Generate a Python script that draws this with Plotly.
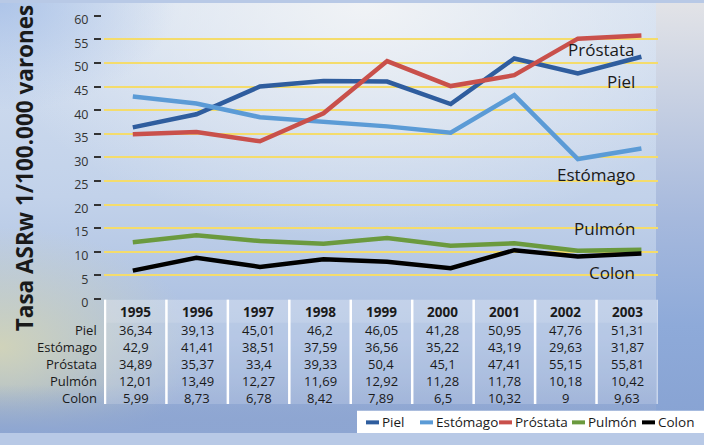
import base64
import plotly.graph_objects as go

# ---------------- data ----------------
years = ["1995", "1996", "1997", "1998", "1999", "2000", "2001", "2002", "2003"]
series_names = ["Piel", "Estómago", "Próstata", "Pulmón", "Colon"]
piel = [36.34, 39.13, 45.01, 46.2, 46.05, 41.28, 50.95, 47.76, 51.31]
estomago = [42.9, 41.41, 38.51, 37.59, 36.56, 35.22, 43.19, 29.63, 31.87]
prostata = [34.89, 35.37, 33.4, 39.33, 50.4, 45.1, 47.41, 55.15, 55.81]
pulmon = [12.01, 13.49, 12.27, 11.69, 12.92, 11.28, 11.78, 10.18, 10.42]
colon = [5.99, 8.73, 6.78, 8.42, 7.89, 6.5, 10.32, 9, 9.63]
y_ticks = [0, 5, 10, 15, 20, 25, 30, 35, 40, 45, 50, 55, 60]
y_title = "Tasa ASRw 1/100.000 varones"

series_values = [piel, estomago, prostata, pulmon, colon]

# ---------------- style ----------------
W, H = 704, 445
colors = ["#2f5d9e", "#5b9bd6", "#c9504b", "#6b9a3e", "#000000"]
label_y = [46.1, 26.4, 52.9, 15.0, 5.6]   # in-chart label placement
FONT = "Open Sans"
TXT = "#1a1a1a"


def px(x):
    return x / W


def py(y):
    return 1 - y / H


def fmt(v):
    return f"{v:g}".replace(".", ",")


bg_svg = f"""<svg xmlns='http://www.w3.org/2000/svg' width='{W}' height='{H}' viewBox='0 0 {W} {H}' preserveAspectRatio='none'>
<defs>
<linearGradient id='v' x1='0' y1='0' x2='0' y2='1'>
<stop offset='0' stop-color='#d3dff0'/>
<stop offset='0.45' stop-color='#c2d2ea'/>
<stop offset='0.78' stop-color='#a8bde0'/>
<stop offset='1' stop-color='#8aa2cf'/>
</linearGradient>
<radialGradient id='hl' cx='0.52' cy='0' r='0.55'>
<stop offset='0' stop-color='#f2f4f6' stop-opacity='0.95'/>
<stop offset='1' stop-color='#f2f4f6' stop-opacity='0'/>
</radialGradient>
<radialGradient id='tl' cx='0' cy='0' r='0.25'>
<stop offset='0' stop-color='#aac2e8' stop-opacity='0.9'/>
<stop offset='1' stop-color='#aac2e8' stop-opacity='0'/>
</radialGradient>
<radialGradient id='warm' cx='0.0' cy='0.8' r='0.28'>
<stop offset='0' stop-color='#d2d4b8' stop-opacity='0.95'/>
<stop offset='1' stop-color='#d2d4b8' stop-opacity='0'/>
</radialGradient>
<linearGradient id='rs' x1='0' y1='0' x2='0' y2='1'>
<stop offset='0' stop-color='#e2e3e7'/>
<stop offset='0.25' stop-color='#c4cee2'/>
<stop offset='0.5' stop-color='#a6b9dd'/>
<stop offset='0.75' stop-color='#8eaad9'/>
<stop offset='1' stop-color='#87a2d2'/>
</linearGradient>
<linearGradient id='bt' x1='0' y1='0' x2='0' y2='1'>
<stop offset='0' stop-color='#8ea6d2' stop-opacity='0'/>
<stop offset='1' stop-color='#8ea6d2' stop-opacity='1'/>
</linearGradient>
</defs>
<rect width='{W}' height='{H}' fill='url(#v)'/>
<rect width='{W}' height='{H}' fill='url(#hl)'/>
<rect width='{W}' height='{H}' fill='url(#tl)'/>
<rect width='{W}' height='{H}' fill='url(#warm)'/>
<rect x='0' y='395' width='{W}' height='50' fill='url(#bt)'/>
<rect x='656' y='0' width='48' height='{H}' fill='url(#rs)'/>
</svg>"""
bg_uri = "data:image/svg+xml;base64," + base64.b64encode(bg_svg.encode()).decode()

fig = go.Figure()

for name, vals, col in zip(series_names, series_values, colors):
    fig.add_trace(go.Scatter(
        x=years, y=vals, name=name, mode="lines",
        line=dict(color=col, width=4.5), showlegend=False,
        hoverinfo="x+y+name",
    ))
# helper trace for the tick axis and the table axis
fig.add_trace(go.Scatter(x=[], y=[], xaxis="x2", yaxis="y2", showlegend=False))

x_lo, x_hi = -0.453, 8.253          # line chart category range
t_lo, t_hi = -0.516, 8.492          # table column axis range
plot_l, plot_r, plot_t, plot_b = 104, 657.5, 12, 306.7

fig.update_layout(
    width=W, height=H, autosize=False,
    margin=dict(l=0, r=0, t=0, b=0),
    paper_bgcolor="#b8c9e6", plot_bgcolor="white",
    font=dict(family=FONT, color=TXT),
    xaxis=dict(type="category", domain=[px(plot_l), px(plot_r)], range=[x_lo, x_hi],
               showticklabels=False, showgrid=False, zeroline=False, showline=False,
               ticks="", fixedrange=True),
    xaxis2=dict(overlaying="x", range=[t_lo, t_hi], showticklabels=False, showgrid=False,
                zeroline=False, showline=False, ticks="", fixedrange=True),
    yaxis=dict(domain=[py(plot_b), py(plot_t)], range=[-0.1, 60.25],
               tickvals=y_ticks[1:-1], showticklabels=False, ticks="",
               showgrid=True, gridcolor="#f4dc6c", gridwidth=2.1,
               zeroline=False, showline=False, fixedrange=True),
    yaxis2=dict(overlaying="y", anchor="free", position=px(101), side="left",
                range=[-0.1, 60.25], tickvals=y_ticks, ticktext=[str(t) for t in y_ticks],
                ticks="outside", ticklen=7, tickwidth=1.6, tickcolor="#333333",
                tickfont=dict(size=12.5, color="#333333", family=FONT),
                ticklabelstandoff=3, ticklabelshift=4,
                showgrid=False, zeroline=False, showline=False, fixedrange=True),
    images=[dict(source=bg_uri, xref="paper", yref="paper", x=0, y=1,
                 sizex=1, sizey=1, sizing="stretch", layer="below",
                 xanchor="left", yanchor="top")],
)

shapes = []
annotations = []

# y-axis title
annotations.append(dict(text=f"<b>{y_title}</b>", xref="paper", yref="paper",
                        x=px(24), y=py(171), textangle=-90, showarrow=False,
                        font=dict(size=22.5, color=TXT, family=FONT),
                        xanchor="center", yanchor="middle"))

last = len(years) - 1
# in-chart series labels
for name, ly in zip(series_names, label_y):
    annotations.append(dict(text=name, xref="x", yref="y", x=last, y=ly,
                            xanchor="right", yanchor="middle", xshift=-4,
                            showarrow=False, font=dict(size=17, color=TXT, family=FONT)))

# ---- data table ----
tab_top, tab_bot = 307, 415
header_y = 320
row_y0, row_dy = 338, 17.7
shapes.append(dict(type="rect", xref="x2", yref="paper", x0=-0.5, x1=len(years) - 0.5,
                   y0=py(tab_bot), y1=py(tab_top), line=dict(width=0),
                   fillcolor="rgba(255,255,255,0.16)", layer="below"))
shapes.append(dict(type="rect", xref="x2", yref="paper", x0=-0.5, x1=len(years) - 0.5,
                   y0=py(331), y1=py(tab_top), line=dict(width=0),
                   fillcolor="rgba(255,255,255,0.12)", layer="below"))
for k in range(len(years) + 1):
    sx = k - 0.5
    shapes.append(dict(type="line", xref="x2", yref="paper", x0=sx, x1=sx,
                       y0=py(tab_bot), y1=py(tab_top),
                       line=dict(color="white", width=2.5)))

for i, yr in enumerate(years):
    annotations.append(dict(text=f"<b>{yr}</b>", xref="x2", yref="paper", x=i,
                            y=py(header_y), showarrow=False, xanchor="center",
                            yanchor="middle", font=dict(size=13.5, color=TXT, family=FONT)))
for r, (name, vals) in enumerate(zip(series_names, series_values)):
    yy = py(row_y0 + r * row_dy)
    annotations.append(dict(text=name, xref="paper", yref="paper", x=px(99), y=yy,
                            xanchor="right", yanchor="middle", showarrow=False,
                            font=dict(size=13, color=TXT, family=FONT)))
    for i, v in enumerate(vals):
        annotations.append(dict(text=fmt(v), xref="x2", yref="paper", x=i, y=yy,
                                xanchor="center", yanchor="middle", showarrow=False,
                                font=dict(size=13, color=TXT, family=FONT)))

# ---- custom legend ----
shapes.append(dict(type="rect", xref="paper", yref="paper", x0=px(357), x1=1,
                   y0=0, y1=py(422), fillcolor="white", line=dict(width=0)))
leg_sw_x = [366, 420, 499, 572, 642]
leg_y = 434
for name, col, sx in zip(series_names, colors, leg_sw_x):
    shapes.append(dict(type="line", xref="paper", yref="paper", x0=px(sx), x1=px(sx + 13),
                       y0=py(leg_y), y1=py(leg_y), line=dict(color=col, width=4)))
    annotations.append(dict(text=name, xref="paper", yref="paper", x=px(sx + 14), y=py(leg_y),
                            xanchor="left", yanchor="middle", showarrow=False,
                            font=dict(size=13.5, color=TXT, family=FONT)))

fig.update_layout(shapes=shapes, annotations=annotations)
fig.write_html("out.html", config={"displayModeBar": False},
               post_script="document.body.style.margin='0';document.body.style.overflow='hidden';")
